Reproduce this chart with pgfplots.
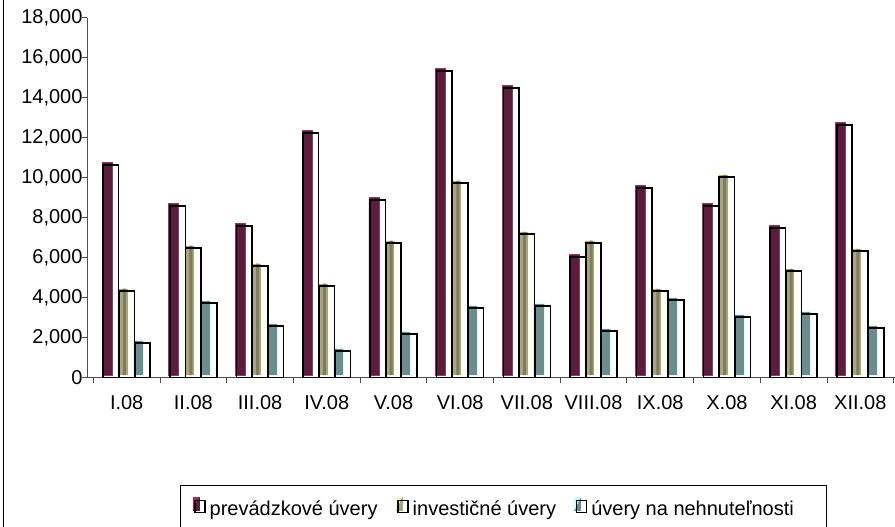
\documentclass[border=0pt]{standalone}
\usepackage{pgfplots}
\pgfplotsset{compat=1.18}
\usepackage{pgfplotstable}
\usepackage{fontspec}
\setmainfont{Liberation Sans}
\definecolor{cA}{HTML}{5A1E3C}
\definecolor{cAh}{HTML}{993366}
\definecolor{cB}{HTML}{A8A584}
\definecolor{cBd}{HTML}{7F7C5F}
\definecolor{cBh}{HTML}{FFFFCC}
\definecolor{cC}{HTML}{6E8C8C}
\definecolor{cCh}{HTML}{CCFFFF}
\newcommand\ff{\fontsize{20}{23}\selectfont}
\pgfplotstableread{
x a b c
0 10620 4330 1730
1 8580 6480 3730
2 7580 5580 2580
3 12230 4580 1330
4 8870 6730 2170
5 15320 9730 3480
6 14480 7170 3580
7 6020 6730 2330
8 9480 4320 3870
9 8580 10020 3030
10 7480 5320 3180
11 12630 6320 2480
}\data
\begin{document}
\begin{tikzpicture}
\useasboundingbox (0pt,0pt) rectangle (895pt,527pt);
\clip (0pt,0pt) rectangle (895pt,527pt);
\fill[white] (0pt,0pt) rectangle (895pt,527pt);
\draw[black, line width=1pt] (3.5pt,-5pt) -- (3.5pt,540pt);
\draw[black, line width=0.8pt] (180.5pt,-10pt) rectangle (826pt,42pt);
\begin{axis}[
  at={(87pt,149.3pt)}, anchor=south west,
  width=808pt, height=360pt, scale only axis,
  xmin=-0.595, xmax=11.52, ymin=0, ymax=18000,
  axis x line*=bottom, axis y line*=left,
  axis line style={gray!60!black, line width=0.8pt, -},
  tick align=outside, major tick length=5pt,
  tick style={gray!60!black, line width=0.8pt},
  xtick={-0.5,0.5,...,11.5}, xticklabels={},
  extra x ticks={0,1,...,11},
  extra x tick labels={I.08,II.08,III.08,IV.08,V.08,VI.08,VII.08,VIII.08,IX.08,X.08,XI.08,XII.08},
  extra x tick style={major tick length=0pt, xticklabel style={yshift=-14pt}},
  ytick={0,2000,...,18000},
  scaled y ticks=false,
  yticklabel style={/pgf/number format/fixed, /pgf/number format/1000 sep={,}, xshift=4pt},
  /pgf/number format/assume math mode=true,
  ticklabel style={font=\ff, text=black},
  legend columns=3,
  legend style={at={(0.504,-0.362)}, anchor=center, draw=none, fill=none, font=\ff,
    /tikz/every odd column/.append style={column sep=2pt},
    /tikz/every even column/.append style={column sep=16pt}},
]
\addplot[ybar, bar width=0.15, bar shift=-0.293, fill=cA, draw=cAh, line width=0.8pt, yshift=2.5pt,
  legend image code/.code={\fill[cA] (0pt,-4pt) rectangle (6pt,9pt); \draw[cAh,line width=0.8pt] (0pt,-4pt) -- (0pt,9pt) -- (6pt,9pt); \draw[black, fill=none, line width=1.5pt] (2pt,-6pt) rectangle (12pt,6pt);}]
  table[x=x,y=a]{\data};
\addlegendentry{prevádzkové úvery}
\addplot[ybar, bar width=0.15, bar shift=-0.056, fill=cB, draw=cBh, line width=0.8pt, yshift=2.5pt,
  legend image code/.code={\fill[cB] (0pt,-4pt) rectangle (6pt,9pt); \draw[cBh,line width=0.8pt] (0pt,-4pt) -- (0pt,9pt) -- (6pt,9pt); \draw[black, fill=none, line width=1.5pt] (2pt,-6pt) rectangle (12pt,6pt);}]
  table[x=x,y=b]{\data};
\addlegendentry{investičné úvery}
\addplot[ybar, bar width=0.15, bar shift=0.181, fill=cC, draw=cCh, line width=0.8pt, yshift=2.5pt,
  legend image code/.code={\fill[cC] (0pt,-4pt) rectangle (6pt,9pt); \draw[cCh,line width=0.8pt] (0pt,-4pt) -- (0pt,9pt) -- (6pt,9pt); \draw[black, fill=none, line width=1.5pt] (2pt,-6pt) rectangle (12pt,6pt);}]
  table[x=x,y=c]{\data};
\addlegendentry{úvery na nehnuteľnosti}
\addplot[ybar, bar width=0.045, bar shift=-0.036, fill=cBd, draw=none, yshift=2.5pt, forget plot]
  table[x=x,y=b]{\data};
\addplot[ybar, bar width=0.232, bar shift=-0.237, fill=none, draw=black, line width=1.6pt, forget plot]
  table[x=x,y=a]{\data};
\addplot[ybar, bar width=0.232, bar shift=0, fill=none, draw=black, line width=1.6pt, forget plot]
  table[x=x,y=b]{\data};
\addplot[ybar, bar width=0.232, bar shift=0.237, fill=none, draw=black, line width=1.6pt, forget plot]
  table[x=x,y=c]{\data};
\end{axis}
\end{tikzpicture}
\end{document}
